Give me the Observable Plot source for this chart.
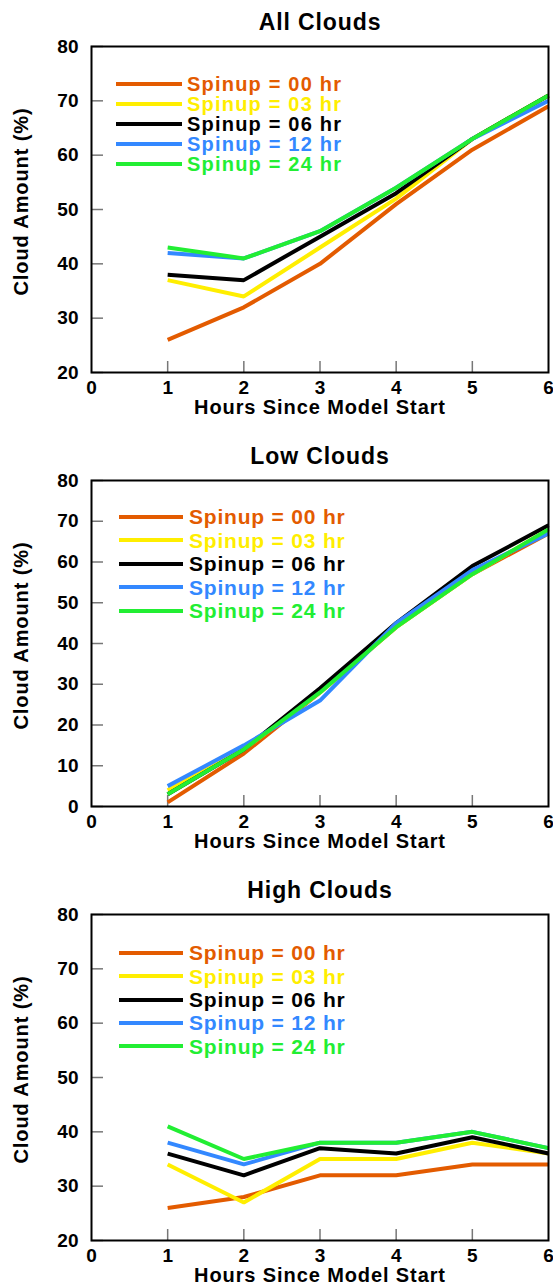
<!DOCTYPE html>
<html><head><meta charset="utf-8">
<script src="https://cdn.jsdelivr.net/npm/d3@7"></script>
<script src="https://cdn.jsdelivr.net/npm/@observablehq/plot@0.6"></script>
<style>
body{margin:0;background:#fff;}
.panel{position:relative;width:553px;overflow:hidden;}
.panel svg{display:block;}
.panel svg text.wide{letter-spacing:0.9px;}
.legend{position:absolute;font-family:"Liberation Sans",Arial,sans-serif;font-weight:bold;}
.row{display:flex;align-items:center;}
.swatch{height:4px;}
.lab{line-height:1;white-space:nowrap;}
</style></head><body><div id="chart"></div>
<script>
const hours = [1, 2, 3, 4, 5, 6];
const spinups = ["Spinup = 00 hr", "Spinup = 03 hr", "Spinup = 06 hr", "Spinup = 12 hr", "Spinup = 24 hr"];
const colors = ["#E35B00", "#FFEE00", "#000000", "#3388FF", "#22EE33"];
const xTicks = [0, 1, 2, 3, 4, 5, 6];

const allClouds = [
  [26, 32, 40, 51, 61, 69],
  [37, 34, 43, 52, 63, 71],
  [38, 37, 45, 53, 63, 71],
  [42, 41, 46, 54, 63, 70],
  [43, 41, 46, 54, 63, 71]
];
const lowClouds = [
  [1, 13, 28, 44, 57, 67],
  [4, 14, 28, 44, 57, 68],
  [3, 14, 29, 45, 59, 69],
  [5, 15, 26, 45, 58, 67],
  [3, 14, 28, 44, 57, 68]
];
const highClouds = [
  [26, 28, 32, 32, 34, 34],
  [34, 27, 35, 35, 38, 36],
  [36, 32, 37, 36, 39, 36],
  [38, 34, 38, 38, 40, 37],
  [41, 35, 38, 38, 40, 37]
];

const titles = ["All Clouds", "Low Clouds", "High Clouds"];
const yTicksAll = [20, 30, 40, 50, 60, 70, 80];
const yTicksLow = [0, 10, 20, 30, 40, 50, 60, 70, 80];
const yTicksHigh = [20, 30, 40, 50, 60, 70, 80];

const panels = [
  {title: titles[0], values: allClouds, yTicks: yTicksAll, height: 434, mb: 62,
   leg: {left: 116, w: 66, gap: 5, top: 83.6, step: 20, fs: 20, ls: 1.2}},
  {title: titles[1], values: lowClouds, yTicks: yTicksLow, height: 434, mb: 62,
   leg: {left: 119, w: 64, gap: 6, top: 83, step: 23.4, fs: 21, ls: 0.8}},
  {title: titles[2], values: highClouds, yTicks: yTicksHigh, height: 419, mb: 47,
   leg: {left: 119, w: 64, gap: 6, top: 85, step: 23.3, fs: 21, ls: 0.8}}
];

const root = document.getElementById("chart");
for (const p of panels) {
  const rows = [];
  p.values.forEach((vals, i) => vals.forEach((v, j) => rows.push({series: spinups[i], hour: hours[j], value: v})));
  const yDom = d3.extent(p.yTicks);
  const chart = Plot.plot({
    width: 553, height: p.height,
    marginLeft: 91, marginRight: 5, marginTop: 46, marginBottom: p.mb,
    x: {domain: d3.extent(xTicks)},
    y: {domain: yDom},
    color: {domain: spinups, range: colors},
    style: {fontFamily: "'Liberation Sans', Arial, sans-serif", fontWeight: "bold", background: "white", overflow: "visible", color: "black"},
    marks: [
      Plot.axisY({ticks: p.yTicks, tickFormat: "d", tickSize: 0, tickPadding: 13, fontSize: 19, label: null}),
      Plot.axisY({ticks: p.yTicks, tickSize: 12, dx: 12, text: null, label: null, stroke: "#777", strokeWidth: 1.5}),
      Plot.axisX({ticks: xTicks, tickFormat: "d", tickSize: 0, tickPadding: 8, fontSize: 19, label: null}),
      Plot.axisX({ticks: hours.slice(0, 5), tickSize: 11, dy: -11, text: null, label: null, stroke: "#777", strokeWidth: 1.5}),
      Plot.line(rows, {x: "hour", y: "value", z: "series", stroke: "series", strokeWidth: 4, strokeLinejoin: "miter", strokeLinecap: "butt"}),
      Plot.frame({stroke: "black", strokeWidth: 2}),
      Plot.text([p.title], {frameAnchor: "top", dy: -24, lineAnchor: "middle", fontSize: 23, fontWeight: "bold", className: "wide"}),
      Plot.text(["Hours Since Model Start"], {frameAnchor: "bottom", dy: 35, lineAnchor: "middle", fontSize: 20, fontWeight: "bold", className: "wide"}),
      Plot.text(["Cloud Amount (%)"], {frameAnchor: "left", dx: -70, dy: -8, rotate: -90, textAnchor: "middle", lineAnchor: "middle", fontSize: 20, fontWeight: "bold", className: "wide"})
    ]
  });
  chart.querySelectorAll("g.wide text, text.wide").forEach(t => t.style.letterSpacing = "0.9px");
  const wrap = document.createElement("div");
  wrap.className = "panel";
  wrap.style.height = p.height + "px";
  wrap.appendChild(chart);
  const leg = document.createElement("div");
  leg.className = "legend";
  leg.style.left = p.leg.left + "px";
  leg.style.top = (p.leg.top - p.leg.step / 2) + "px";
  spinups.forEach((s, i) => {
    const r = document.createElement("div");
    r.className = "row";
    r.style.height = p.leg.step + "px";
    const sw = document.createElement("div");
    sw.className = "swatch";
    sw.style.width = p.leg.w + "px";
    sw.style.marginRight = p.leg.gap + "px";
    sw.style.background = colors[i];
    const t = document.createElement("span");
    t.className = "lab";
    t.style.fontSize = p.leg.fs + "px";
    t.style.letterSpacing = p.leg.ls + "px";
    t.style.color = colors[i];
    t.textContent = s;
    r.appendChild(sw); r.appendChild(t);
    leg.appendChild(r);
  });
  wrap.appendChild(leg);
  root.appendChild(wrap);
}
</script></body></html>
